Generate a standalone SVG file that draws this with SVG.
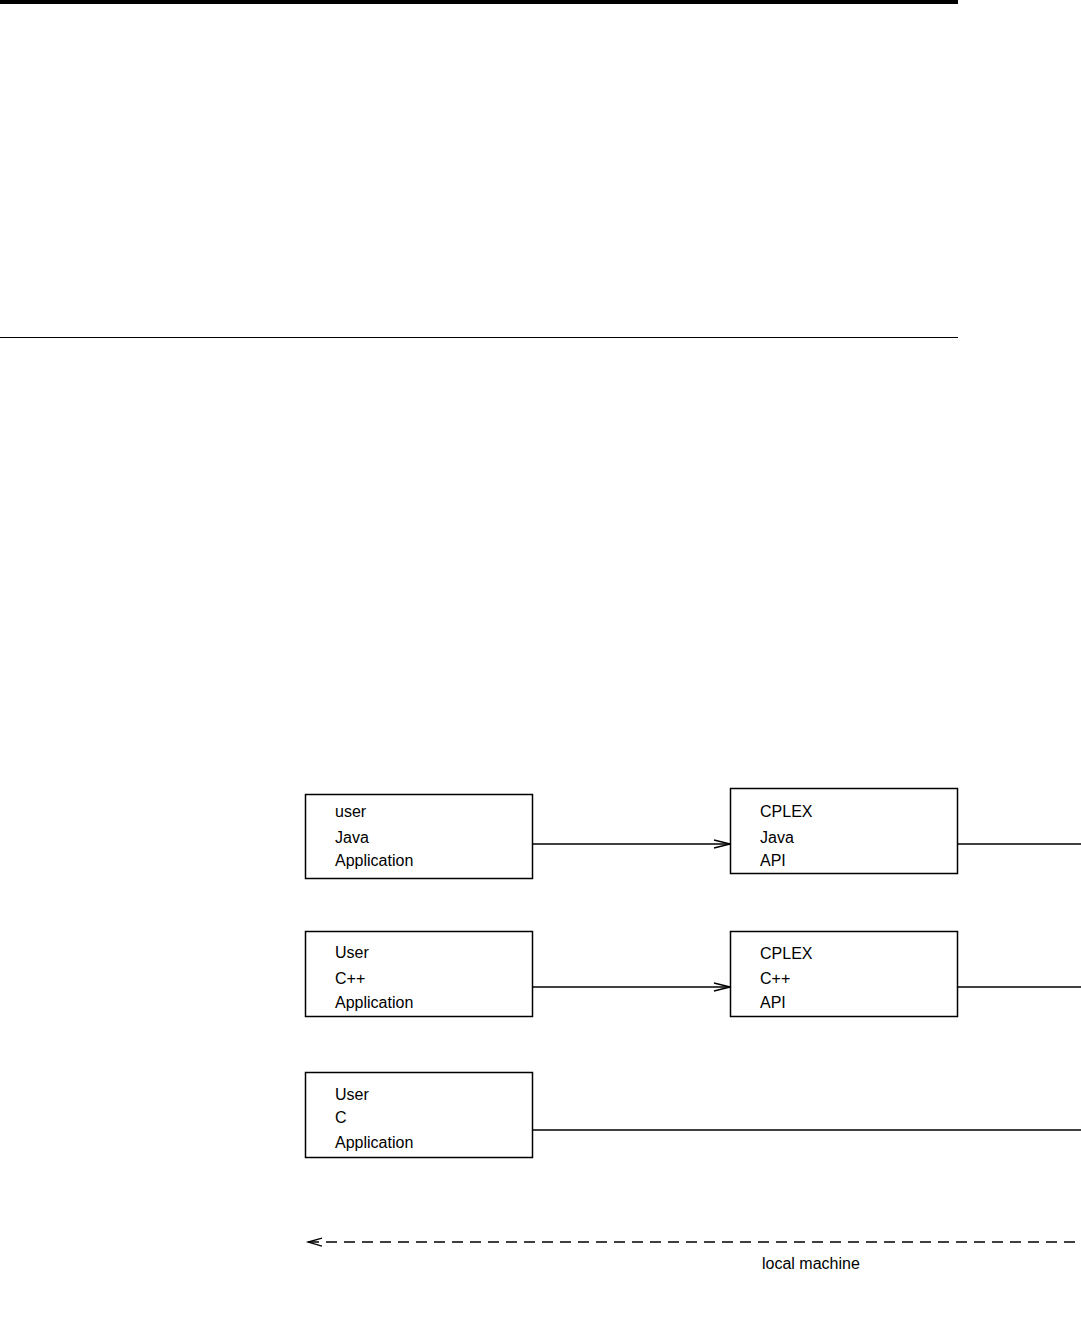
<svg xmlns="http://www.w3.org/2000/svg" width="1081" height="1340" viewBox="0 0 1081 1340">
<style>
.box{fill:#fff;stroke:#000;stroke-width:1.5}
.t{font-family:"Liberation Sans",Arial,sans-serif;font-size:16px;fill:#000}
.ln{stroke:#000;stroke-width:1.3;fill:none}
.ah{stroke:#000;stroke-width:1.3;fill:none}
</style>
<rect x="0" y="0" width="958" height="4" fill="#000"/>
<line x1="0" y1="337.5" x2="958" y2="337.5" stroke="#000" stroke-width="1.2"/>
<g id="connectors">
<line class="ln" x1="533" y1="844" x2="730" y2="844"/>
<path class="ah" d="M714,840 L730,844 L714,848"/>
<line class="ln" x1="533" y1="987" x2="730" y2="987"/>
<path class="ah" d="M714,983 L730,987 L714,991"/>
<line class="ln" x1="958" y1="844" x2="1081" y2="844"/>
<line class="ln" x1="958" y1="987" x2="1081" y2="987"/>
<line class="ln" x1="533" y1="1130" x2="1081" y2="1130"/>
<line class="ln" x1="308" y1="1242" x2="1081" y2="1242" stroke-dasharray="11 7"/>
<path class="ah" d="M322,1238 L308,1242 L322,1246"/>
</g>
<g id="user-java">
<rect class="box" x="305.5" y="794.5" width="227" height="84"/>
<text class="t" x="335" y="817">user</text>
<text class="t" x="335" y="843">Java</text>
<text class="t" x="335" y="866">Application</text>
</g>
<g id="cplex-java">
<rect class="box" x="730.5" y="788.5" width="227" height="85"/>
<text class="t" x="760" y="817">CPLEX</text>
<text class="t" x="760" y="843">Java</text>
<text class="t" x="760" y="866">API</text>
</g>
<g id="user-cpp">
<rect class="box" x="305.5" y="931.5" width="227" height="85"/>
<text class="t" x="335" y="958">User</text>
<text class="t" x="335" y="984">C++</text>
<text class="t" x="335" y="1008">Application</text>
</g>
<g id="cplex-cpp">
<rect class="box" x="730.5" y="931.5" width="227" height="85"/>
<text class="t" x="760" y="959">CPLEX</text>
<text class="t" x="760" y="984">C++</text>
<text class="t" x="760" y="1008">API</text>
</g>
<g id="user-c">
<rect class="box" x="305.5" y="1072.5" width="227" height="85"/>
<text class="t" x="335" y="1100">User</text>
<text class="t" x="335" y="1123">C</text>
<text class="t" x="335" y="1148">Application</text>
</g>
<g id="local-machine">
<text class="t" x="762" y="1269">local machine</text>
</g>
</svg>
